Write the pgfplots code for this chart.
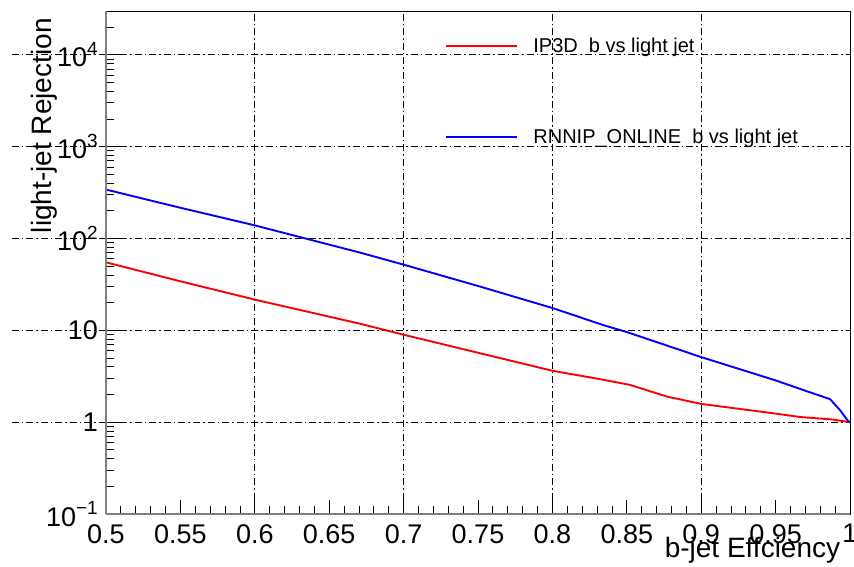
\documentclass[border=0pt]{standalone}
\usepackage{fontspec}
\setmainfont{Liberation Sans}
\usepackage{pgfplots}
\pgfplotsset{compat=1.18}
\tikzset{gridstyle/.style={black, line width=0.8pt, dash pattern=on 7pt off 3pt on 1.5pt off 3pt}}
\newcommand{\tenpow}[1]{10\raisebox{0.42em}{\fontsize{19}{19}\selectfont #1}}
\begin{document}
\begin{tikzpicture}
\begin{axis}[
  scale only axis, width=744pt, height=503pt,
  ymode=log, xmin=0.5, xmax=1, ymin=0.1, ymax=30000,
  clip=false,
  xtick={0.5,0.55,0.6,0.65,0.7,0.75,0.8,0.85,0.9,0.95,1},
  xticklabels={0.5,0.55,0.6,0.65,0.7,0.75,0.8,0.85,0.9,0.95,1},
  minor x tick num=4,
  ytick={0.1,1,10,100,1000,10000},
  yticklabels={\tenpow{−1},1,10,\tenpow{2},\tenpow{3},\tenpow{4}},
  minor ytick={0.2,0.3,0.4,0.5,0.6,0.7,0.8,0.9,2,3,4,5,6,7,8,9,20,30,40,50,60,70,80,90,200,300,400,500,600,700,800,900,2000,3000,4000,5000,6000,7000,8000,9000,20000},
  tick align=inside, tick pos=left,
  major tick length=14pt, minor tick length=8pt,
  tick style={black, line width=0.8pt},
  axis line style={black, line width=0.8pt},
  ymajorgrids, grid style={gridstyle},
  extra x ticks={0.6,0.7,0.8,0.9}, extra x tick labels={},
  extra x tick style={grid=major},
  xticklabel style={font=\fontsize{27}{27}\selectfont, inner sep=0pt, yshift=-10pt},
  yticklabel style={font=\fontsize{27}{27}\selectfont, inner sep=0pt, xshift=-8pt},
  xlabel={b-jet Effciency},
  ylabel={light-jet Rejection},
  xlabel style={font=\fontsize{28}{28}\selectfont, at={(rel axis cs:0.987,-0.0855)}, anchor=base east, inner sep=0pt},
  ylabel style={font=\fontsize{28}{28}\selectfont, at={(rel axis cs:-0.0726,0.986)}, anchor=base east, inner sep=0pt},
  legend style={draw=none, fill=none, at={(rel axis cs:0.452,0.951)}, anchor=north west,
    row sep=75pt, column sep=15pt, font=\fontsize{20}{24}\selectfont, nodes={inner sep=0pt}},
  legend cell align=left,
  legend image code/.code={\draw[#1] (0pt,0pt) -- (71pt,0pt);},
]
\addplot[red, line width=1.9pt] coordinates {
(0.5,55.0) (0.55,34.2) (0.6,21.6) (0.6707,11.8) (0.7,8.96) (0.75,5.70) (0.8,3.63)
(0.832,2.94) (0.852,2.55) (0.877,1.90) (0.9,1.58) (0.95,1.24) (0.966,1.14) (0.988,1.07) (1.0,1.0)};
\addlegendentry{IP3D\ \ b vs light jet}
\addplot[blue, line width=1.9pt] coordinates {
(0.5,341) (0.55,216) (0.6,139) (0.634,100) (0.6707,70.2) (0.7,51.9) (0.75,30.4) (0.8,17.5)
(0.835,11.3) (0.85,9.58) (0.9,5.11) (0.95,2.85) (0.97,2.2) (0.9866,1.78) (0.9933,1.35) (0.9987,1.03) (1.0,1.0)};
\addlegendentry{RNNIP\_ONLINE\ \ b vs light jet}
\draw[gridstyle] (axis cs:0.4368,1) -- (axis cs:0.5,1);
\draw[gridstyle] (axis cs:0.4368,10) -- (axis cs:0.5,10);
\draw[gridstyle] (axis cs:0.4368,100) -- (axis cs:0.5,100);
\draw[gridstyle] (axis cs:0.4368,1000) -- (axis cs:0.5,1000);
\draw[gridstyle] (axis cs:0.4368,10000) -- (axis cs:0.5,10000);
\coordinate (ll) at (rel axis cs:0,0);
\coordinate (ur) at (rel axis cs:1,1);
\end{axis}
\draw[gray, line width=1.6pt] (ll) -- (ll |- ur);
\draw[gray, line width=1.6pt] (ll) -- (ur |- ll);
\pgfresetboundingbox
\path[use as bounding box] ([xshift=-106pt,yshift=-53pt]ll) rectangle ([xshift=4pt,yshift=11pt]ur);
\end{tikzpicture}
\end{document}
